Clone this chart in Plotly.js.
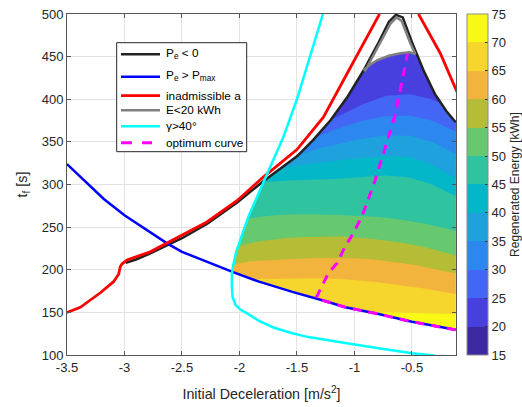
<!DOCTYPE html>
<html>
<head>
<meta charset="utf-8">
<script src="https://cdn.plot.ly/plotly-3.0.1.min.js"></script>
<style>html,body{margin:0;padding:0;background:#fff;}#chart{width:522px;height:407px;}</style>
</head>
<body>
<div id="chart"></div>
<script>
// ---------------- data ----------------
// boundary curves
const blackX = [-2.99,-2.9,-2.78,-2.5,-2.28,-2.02,-1.79,-1.65,-1.5,-1.36,-1.21,-1.06,-0.92,-0.8,-0.7,-0.64,-0.58,-0.5,-0.4,-0.3,-0.2,-0.12];
const blackY = [208,212,219,237,254,279,304,318,333,352,375,403,434,464,491,499,496,467,434,406,386,373];

const blueX = [-3.5,-3.3,-3.18,-3.0,-2.83,-2.63,-2.5,-2.28,-2.05,-1.83,-1.54,-1.25,-1.08,-0.79,-0.5,-0.12];
const blueY = [324,298,283,264,249,231,221,209,197,186,174,163,156,148,139,129.5];

const redX = [-3.5,-3.384,-3.21,-3.095,-3.05,-3.037,-3.02,-2.978,-2.776,-2.5,-2.283,-2.022,-1.79,-1.5,-1.27,-1.0,-0.782,null,-0.443,-0.254,-0.109];
const redY = [150,156,173,186,195,203.6,207,211.5,221,241,256,281,309,341,379,446,500,null,500,454,409];

const grayArcX = [-0.92,-0.87,-0.8,-0.7,-0.6,-0.52,-0.47];
const grayArcY = [434,440,446,451,454,455,453];
const grayEdgeX = [-0.47,-0.515,-0.59,-0.635,-0.69,-0.79,-0.905,-0.92];
const grayEdgeY = [453,466,492,496,488,462,434,434];

const cyanX = [-1.274,-1.38,-1.5,-1.62,-1.74,-1.85,-1.92,-1.96,-2.0,-2.03,-2.055,-2.066,-2.067,-2.06,-2.035,-1.99,-1.93,-1.83,-1.7,-1.54,-1.4,-1.25,-1.08,-0.79,-0.5,-0.3];
const cyanY = [500,453,400,355,318,283,263,248,233,220,205,195,180,168,159,153,148.5,140,132,125.5,121,117.5,114,108,102,99.5];

const optX = [-0.12,-0.5,-0.79,-1.08,-1.25,-1.335,-1.227,-1.15,-1.082,-1.01,-0.937,-0.83,-0.74,-0.65,-0.59,-0.54];
const optY = [129.5,139,148,156,163,166.5,196,208,227,243,262,301,340,380,419,453];

// contour level curves of regenerated energy, t_f values at xGrid
const xGrid = [-2.1,-1.9,-1.7,-1.5,-1.3,-1.1,-0.9,-0.7,-0.5,-0.3,-0.1];
const L25 = [330,340,350,360,370,382,396,405,406,399,386];
const L30 = [317,327,337,347,358,368,376,381,381,374,361];
const L35 = [305,315,325,334,343,349,355,358,357,349,334];
const L40 = [303,310,317,323,326,329,332,334,332,322,306];
const L45 = [298,302,304,305,306,307,309,311,308,299,285];
const L50 = [252,261,264,265,265,264,263,261,257,252,245];
const L55 = [222,232,236,238,239,239,237,234,230,224,216];
const L60 = [205,210,212,213,214,214,213,210,206,201,195];
const L65 = [185,189,190,190,190,189,187,184,180,176,171];
const L70 = [140,143,144,145,146,147,148,150,150,149,148];

const levels = [15,20,25,30,35,40,45,50,55,60,65,70,75];
const bandColors = ['#3c28a0','#4840de','#4466f5','#2c87ef','#1ea1dd','#04b7c8','#30c3a0','#66c86f','#b5bd37','#f2b43c','#f6d52d','#f9f916'];

const xTickVals = [-3.5,-3,-2.5,-2,-1.5,-1,-0.5];
const xTickText = ['-3.5','-3','-2.5','-2','-1.5','-1','-0.5'];
const yTickVals = [100,150,200,250,300,350,400,450,500];

// legend entries
const legNames = ['P<sub>e</sub> < 0','P<sub>e</sub> > P<sub>max</sub>','inadmissible a','E<20 kWh','γ>40°','optimum curve'];
const legColors = ['#222222','#0000ff','#ff0000','#808080','#00ffff','#ff00ff'];

// ---------------- geometry helpers ----------------
function interp(xs, ys, x) {
  if (x <= xs[0]) return ys[0];
  for (let i = 1; i < xs.length; i++) {
    if (x <= xs[i]) {
      const t = (x - xs[i-1]) / (xs[i] - xs[i-1]);
      return ys[i-1] + t * (ys[i] - ys[i-1]);
    }
  }
  return ys[ys.length-1];
}
let tipIdx = 0;
cyanX.forEach((v,i)=>{ if (v < cyanX[tipIdx]) tipIdx = i; });
const cyUpX = cyanX.slice(0, tipIdx+1).reverse();
const cyUpY = cyanY.slice(0, tipIdx+1).reverse();

function topY(x) {
  let t = interp(blackX, blackY, x);
  if (x <= cyUpX[cyUpX.length-1]) t = Math.min(t, interp(cyUpX, cyUpY, x));
  if (x >= grayArcX[0] && x <= grayArcX[grayArcX.length-1]) t = Math.min(t, interp(grayArcX, grayArcY, x));
  return t;
}
function botY(x) { return interp(blueX, blueY, x); }

const xStart = cyUpX[0];
const xEnd = Math.min(blackX[blackX.length-1], blueX[blueX.length-1]);
const xs = [];
for (let x = xStart; x < xEnd; x += 0.004) xs.push(x);
xs.push(xEnd);

function regionAbove(curve) {
  const up = [], lo = [];
  xs.forEach(x => {
    const t = topY(x), b = botY(x);
    let l = curve ? interp(xGrid, curve, x) : b;
    l = Math.max(l, b);
    up.push(t); lo.push(Math.min(l, t));
  });
  return {x: xs.concat(xs.slice().reverse()), y: up.concat(lo.slice().reverse())};
}

const traces = [];
const curves = [null, L70, L65, L60, L55, L50, L45, L40, L35, L30, L25];
curves.forEach((c, k) => {
  const p = regionAbove(c);
  traces.push({type:'scatter', mode:'lines', x:p.x, y:p.y, fill:'toself',
    fillcolor: bandColors[11-k], line:{width:0, color:bandColors[11-k]},
    showlegend:false, hoverinfo:'skip'});
});

// colour bar carrier
const cs = [];
bandColors.forEach((c,i)=>{ cs.push([i/12, c]); cs.push([(i+1)/12, c]); });
traces.push({type:'scatter', mode:'markers', x:[null], y:[null], showlegend:false, hoverinfo:'skip',
  marker:{color:[levels[0]], cmin:levels[0], cmax:levels[levels.length-1], colorscale:cs, showscale:true,
    colorbar:{x:1.028, xanchor:'left', xpad:0, ypad:0, y:0.5, len:1, thickness:21,
      outlinewidth:1, outlinecolor:'#8c8c8c', ticks:'inside', ticklen:3, tickcolor:'#333',
      tickvals:levels, tickfont:{size:13, color:'#262626'},
      title:{text:'Regenerated Energy [kWh]', side:'right', font:{size:12, color:'#262626'}}}}});

const lw = 2.5;
const lineDefs = [
  {x:blackX, y:blackY, w:lw, dash:'solid'},
  {x:blueX, y:blueY, w:lw, dash:'solid'},
  {x:redX, y:redY, w:lw+0.3, dash:'solid'},
  {x:grayArcX.concat(grayEdgeX), y:grayArcY.concat(grayEdgeY), w:lw, dash:'solid'},
  {x:cyanX, y:cyanY, w:lw, dash:'solid'},
  {x:optX, y:optY, w:3, dash:'9px,7px'}
];
lineDefs.forEach((d,i)=>{
  traces.push({type:'scatter', mode:'lines', x:d.x, y:d.y, name:legNames[i], connectgaps:false,
    showlegend:false, hoverinfo:'skip', line:{color:legColors[i], width:d.w, dash:d.dash}});
});

// ---------------- legend box (paper coordinates from pixel layout) ----------------
const W = 522, H = 407, ML = 67, MR = 66, MT = 14, MB = 52;
const PW = W - ML - MR, PH = H - MT - MB;
const px2x = p => (p - ML) / PW;
const py2y = p => (H - MB - p) / PH;
const legRowPx = [54.3, 76.7, 95.7, 110.3, 126.3, 142.7];
const legTextShift = [-1, -1, 0, 0, 0, 0];
const shapes = [{type:'rect', xref:'paper', yref:'paper', x0:px2x(116.7), x1:px2x(246.7), y0:py2y(151.7), y1:py2y(42.7),
  line:{color:'#262626', width:1}, fillcolor:'#ffffff', layer:'above'}];
const annotations = [];
legRowPx.forEach((r,i)=>{
  shapes.push({type:'line', xref:'paper', yref:'paper', x0:px2x(121), x1:px2x(i===5?152:160), y0:py2y(r), y1:py2y(r),
    layer:'above', line:{color:legColors[i], width:lineDefs[i].w, dash:i===5?'11px,10px':'solid'}});
  annotations.push({xref:'paper', yref:'paper', x:px2x(163.5), y:py2y(r + legTextShift[i]), xanchor:'left', yanchor:'middle',
    text:legNames[i], showarrow:false, font:{size:11.8, color:'#000'}});
});

const axisCommon = {showline:true, mirror:'ticks', linecolor:'#555', linewidth:1, ticks:'inside', ticklen:4,
  tickcolor:'#555', showgrid:true, gridcolor:'#e3e3e3', zeroline:false,
  tickfont:{family:'Liberation Sans, Arial, sans-serif', size:13, color:'#262626'}};

const layout = {
  width:W, height:H, margin:{l:ML, r:MR, t:MT, b:MB, autoexpand:false},
  paper_bgcolor:'#fff', plot_bgcolor:'#fff',
  font:{family:'Liberation Sans, Arial, sans-serif', color:'#262626'},
  xaxis:Object.assign({}, axisCommon, {range:[-3.5,-0.117], tickvals:xTickVals, ticktext:xTickText,
    title:{text:'Initial Deceleration [m/s<sup>2</sup>]', font:{size:14.3, color:'#262626'}, standoff:15}}),
  yaxis:Object.assign({}, axisCommon, {range:[100,500], tickvals:yTickVals,
    title:{text:'t<sub>f</sub> [s]', font:{size:14.3, color:'#262626'}, standoff:10}}),
  showlegend:false,
  shapes:shapes, annotations:annotations
};

Plotly.newPlot('chart', traces, layout, {staticPlot:true, displayModeBar:false});
</script>
</body>
</html>
